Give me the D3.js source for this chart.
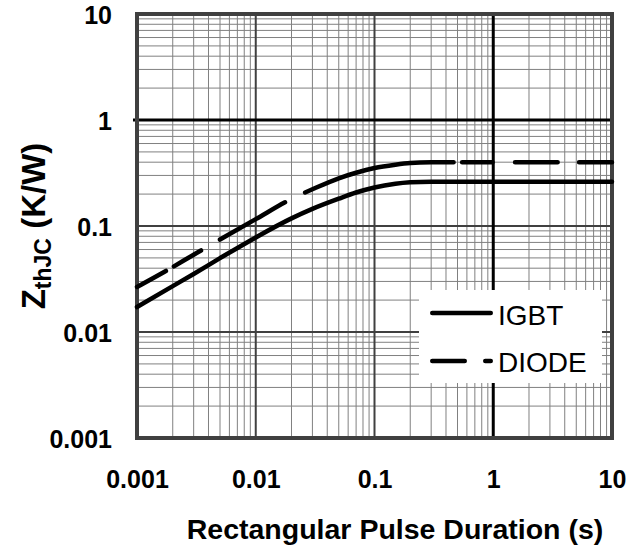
<!DOCTYPE html>
<html>
<head>
<meta charset="utf-8">
<script src="https://cdn.jsdelivr.net/npm/d3@7"></script>
<style>
  html, body { margin: 0; padding: 0; background: #fff; }
  svg { display: block; }
  text { font-family: "Liberation Sans", Arial, Helvetica, sans-serif; }
</style>
</head>
<body>
<svg id="chart" width="640" height="548"></svg>
<script>
// ---- data ----
const pulseDuration = [0.001, 0.002, 0.003, 0.005, 0.01, 0.02, 0.03, 0.05, 0.07, 0.1, 0.15, 0.2, 0.3, 0.5, 1, 2, 5, 10];
const igbtZth  = [0.0172, 0.0271, 0.0353, 0.0497, 0.078, 0.118, 0.145, 0.181, 0.207, 0.231, 0.25, 0.258, 0.262, 0.262, 0.262, 0.262, 0.262, 0.262];
const diodeZth = [0.0266, 0.041, 0.0536, 0.0745, 0.116, 0.18, 0.222, 0.282, 0.318, 0.352, 0.378, 0.392, 0.399, 0.4, 0.4, 0.4, 0.4, 0.4];
const xTickValues = [0.001, 0.01, 0.1, 1, 10];
const xTickLabels = ["0.001", "0.01", "0.1", "1", "10"];
const yTickValues = [0.001, 0.01, 0.1, 1, 10];
const yTickLabels = ["0.001", "0.01", "0.1", "1", "10"];
const seriesNames = ["IGBT", "DIODE"];
const xTitle = "Rectangular Pulse Duration (s)";

// ---- style constants ----
const FONT = '"Liberation Sans", Arial, Helvetica, sans-serif';
const LW = 4.5;
// visible dash extents of the DIODE curve, expressed along the time axis
const diodeDashTimes = [[0.001, 0.00182], [0.00197, 0.00359], [0.00481, 0.0183], [0.025, 0.484], [0.523, 1.03], [1.46, 3.64], [5.05, 10]];

const svg = d3.select("#chart");
const pL = 137, pR = 612, pT = 14, pB = 438;

const x = d3.scaleLog().domain([0.001, 10]).range([pL, pR]);
const y = d3.scaleLog().domain([0.001, 10]).range([pB, pT]);

// ---- grid ----
const grid = svg.append("g");
const minorVals = [];
for (let e = -3; e < 1; e++) for (let m = 2; m <= 9; m++) minorVals.push(m * Math.pow(10, e));

grid.selectAll(".vminor").data(minorVals).join("line")
  .attr("x1", d => x(d)).attr("x2", d => x(d)).attr("y1", pT).attr("y2", pB)
  .attr("stroke", "#808080").attr("stroke-width", 1);
grid.selectAll(".hminor").data(minorVals).join("line")
  .attr("y1", d => y(d)).attr("y2", d => y(d)).attr("x1", pL).attr("x2", pR)
  .attr("stroke", "#808080").attr("stroke-width", 1);

const majorInner = [0.01, 0.1];
grid.selectAll(".vmajor").data(majorInner).join("line")
  .attr("x1", d => x(d)).attr("x2", d => x(d)).attr("y1", pT).attr("y2", pB)
  .attr("stroke", "#404040").attr("stroke-width", 2);
grid.selectAll(".hmajor").data(majorInner).join("line")
  .attr("y1", d => y(d)).attr("y2", d => y(d)).attr("x1", pL).attr("x2", pR)
  .attr("stroke", "#404040").attr("stroke-width", 2);

// legend box (white) drawn over grid
const legX = 419, legY = 290, legW = 183, legH = 93;
svg.append("rect").attr("x", legX).attr("y", legY).attr("width", legW).attr("height", legH).attr("fill", "#fff");

// unit lines (thick black), interrupted by the legend box
svg.append("line").attr("x1", x(1)).attr("x2", x(1)).attr("y1", pT).attr("y2", legY)
  .attr("stroke", "#000").attr("stroke-width", 3);
svg.append("line").attr("x1", x(1)).attr("x2", x(1)).attr("y1", legY + legH).attr("y2", pB)
  .attr("stroke", "#000").attr("stroke-width", 3);
svg.append("line").attr("y1", y(1)).attr("y2", y(1)).attr("x1", pL - 4).attr("x2", pR)
  .attr("stroke", "#000").attr("stroke-width", 3);

// ---- frame ----
svg.append("rect").attr("x", pL).attr("y", pT).attr("width", pR - pL).attr("height", pB - pT)
  .attr("fill", "none").attr("stroke", "#404040").attr("stroke-width", 4);

// ---- curves ----
const line = d3.line().x(d => x(d[0])).y(d => y(d[1])).curve(d3.curveMonotoneX);

svg.append("path").datum(pulseDuration.map((t, i) => [t, igbtZth[i]]))
  .attr("d", line).attr("fill", "none").attr("stroke", "#000")
  .attr("stroke-width", LW).attr("stroke-linecap", "round").attr("stroke-linejoin", "round");

const diode = svg.append("path").datum(pulseDuration.map((t, i) => [t, diodeZth[i]]))
  .attr("d", line).attr("fill", "none").attr("stroke", "#000")
  .attr("stroke-width", LW).attr("stroke-linecap", "round").attr("stroke-linejoin", "round");

(function applyDash() {
  const node = diode.node();
  const L = node.getTotalLength();
  function lenAt(px) {
    let lo = 0, hi = L;
    for (let k = 0; k < 40; k++) {
      const mid = (lo + hi) / 2;
      if (node.getPointAtLength(mid).x < px) lo = mid; else hi = mid;
    }
    return (lo + hi) / 2;
  }
  const segs = diodeDashTimes.map(([a, b]) => {
    let s = lenAt(x(a)), e = lenAt(x(b));
    if (s > 0.5) s += LW / 2;
    if (e < L - 0.5) e -= LW / 2;
    return [Math.max(0, s), Math.min(L, e)];
  });
  const arr = [];
  let pos = 0;
  segs.forEach(([s, e], i) => {
    if (i === 0 && s <= 0.01) { arr.push(e - s); pos = e; return; }
    if (i === 0) { arr.push(0.001, s); }
    else arr.push(s - pos);
    arr.push(e - s);
    pos = e;
  });
  arr.push(L + 100);
  diode.attr("stroke-dasharray", arr.map(v => v.toFixed(2)).join(" "));
})();

// ---- legend ----
const leg = svg.append("g");
leg.append("line").attr("x1", 432.25).attr("x2", 490.75).attr("y1", 313).attr("y2", 313)
  .attr("stroke", "#000").attr("stroke-width", LW).attr("stroke-linecap", "round");
leg.append("line").attr("x1", 432.25).attr("x2", 490.75).attr("y1", 361).attr("y2", 361)
  .attr("stroke", "#000").attr("stroke-width", LW).attr("stroke-linecap", "round")
  .attr("stroke-dasharray", "32.5 20.5 5.5 100");
leg.append("text").attr("x", 498).attr("y", 325).attr("font-size", 28).text(seriesNames[0]);
leg.append("text").attr("x", 498).attr("y", 372).attr("font-size", 28).text(seriesNames[1]);

// ---- axes labels ----
const xAxis = d3.axisBottom(x).tickValues(xTickValues).tickSize(0).tickPadding(0)
  .tickFormat((d, i) => xTickLabels[i]);
const gx = svg.append("g").attr("transform", `translate(0,${pB})`).call(xAxis);
gx.select(".domain").remove();
gx.selectAll("text").attr("font-family", FONT).attr("font-size", 25).attr("font-weight", "bold")
  .attr("fill", "#000").attr("dy", null).attr("y", 50);

const yAxis = d3.axisLeft(y).tickValues(yTickValues).tickSize(0).tickPadding(0)
  .tickFormat((d, i) => yTickLabels[i]);
const gy = svg.append("g").attr("transform", `translate(112,0)`).call(yAxis);
gy.select(".domain").remove();
gy.selectAll("text").attr("font-family", FONT).attr("font-size", 25).attr("font-weight", "bold")
  .attr("fill", "#000").attr("dy", "0.36em").attr("x", 0);

svg.append("text").attr("x", 395).attr("y", 539).attr("text-anchor", "middle")
  .attr("font-size", 28.5).attr("font-weight", "bold").text(xTitle);

const yt = svg.append("text").attr("transform", "translate(45,226) rotate(-90)")
  .attr("text-anchor", "middle").attr("font-size", 33).attr("font-weight", "bold");
yt.append("tspan").text("Z");
yt.append("tspan").attr("font-size", 23).attr("dy", 6).text("thJC");
yt.append("tspan").attr("dy", -6).text(" (K/W)");
</script>
</body>
</html>
